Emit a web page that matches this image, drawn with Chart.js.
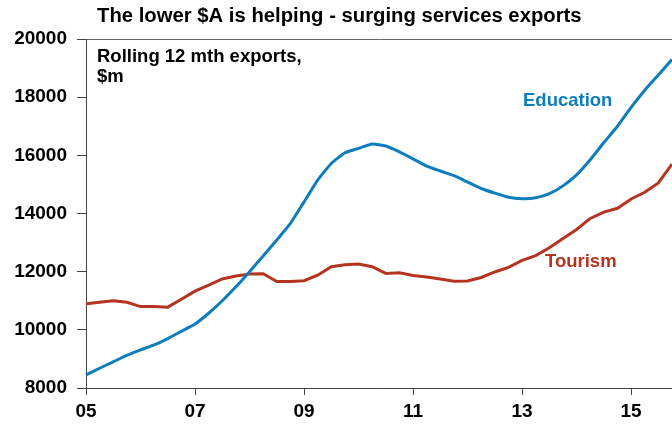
<!DOCTYPE html>
<html>
<head>
<meta charset="utf-8">
<script src="https://cdn.jsdelivr.net/npm/chart.js@4.4.1/dist/chart.umd.min.js"></script>
<style>
  html, body { margin: 0; padding: 0; background: #fff; }
  #wrap { width: 672px; height: 425px; position: relative; }
</style>
</head>
<body>
<div id="wrap"><canvas id="myChart" width="672" height="425"></canvas></div>
<script>
// quarterly observations, Mar-05 .. Dec-15
const quarters = [
  '2005Q1','2005Q2','2005Q3','2005Q4','2006Q1','2006Q2','2006Q3','2006Q4',
  '2007Q1','2007Q2','2007Q3','2007Q4','2008Q1','2008Q2','2008Q3','2008Q4',
  '2009Q1','2009Q2','2009Q3','2009Q4','2010Q1','2010Q2','2010Q3','2010Q4',
  '2011Q1','2011Q2','2011Q3','2011Q4','2012Q1','2012Q2','2012Q3','2012Q4',
  '2013Q1','2013Q2','2013Q3','2013Q4','2014Q1','2014Q2','2014Q3','2014Q4',
  '2015Q1','2015Q2','2015Q3','2015Q4'
];

// rolling 12 mth exports, $m
const education = [
  8450, 8680, 8900, 9120, 9310, 9480, 9700, 9950,
  10200, 10570, 11000, 11480, 12000, 12540, 13090, 13660,
  14400, 15150, 15720, 16090, 16240, 16390, 16320, 16120,
  15880, 15630, 15460, 15300, 15080, 14860, 14700, 14560,
  14510, 14540, 14680, 14950, 15330, 15850, 16440, 17000,
  17650, 18240, 18760, 19300
];
const tourism = [
  10900, 10950, 11000, 10950, 10800, 10800, 10780, 11050,
  11330, 11540, 11750, 11850, 11920, 11930, 11660, 11660,
  11690, 11880, 12170, 12240, 12260, 12170, 11940, 11960,
  11870, 11820, 11750, 11670, 11680, 11800, 11990, 12150,
  12390, 12550, 12820, 13140, 13450, 13830, 14050, 14180,
  14500, 14730, 15050, 15700
];

const yTicks = [8000, 10000, 12000, 14000, 16000, 18000, 20000];
const xTickYears = ['05', '07', '09', '11', '13', '15'];

const BLUE = '#0E7DBB';
const RED = '#B5341F';
const FONT = '"Liberation Sans", Arial, sans-serif';

function xLabel(i) {
  const q = quarters[i];
  const yy = q.slice(2, 4);
  if (q.endsWith('Q1') && xTickYears.includes(yy)) return yy;
  return '';
}

// titles and series labels drawn straight onto the canvas
const textPlugin = {
  id: 'texts',
  afterDraw(chart) {
    const c = chart.ctx;
    c.save();
    c.textBaseline = 'middle';
    c.textAlign = 'left';
    c.fillStyle = '#000';
    c.font = 'bold 20.3px ' + FONT;
    c.fillText('The lower $A is helping - surging services exports', 97, 16);
    c.font = 'bold 18.5px ' + FONT;
    c.fillText('Rolling 12 mth exports,', 97, 57);
    c.fillText('$m', 97, 77);
    c.fillStyle = BLUE;
    c.fillText('Education', 523, 101);
    c.fillStyle = RED;
    c.fillText('Tourism', 545, 262);
    c.restore();
  }
};

const data = {
  labels: quarters,
  datasets: [
    {
      label: 'Education',
      data: education,
      borderColor: BLUE,
      borderWidth: 3,
      pointRadius: 0,
      tension: 0.15
    },
    {
      label: 'Tourism',
      data: tourism,
      borderColor: RED,
      borderWidth: 3,
      pointRadius: 0,
      tension: 0
    }
  ]
};

const config = {
  type: 'line',
  data: data,
  plugins: [textPlugin],
  options: {
    responsive: false,
    animation: false,
    layout: { padding: { top: 39, right: 0, left: 0, bottom: 0 } },
    plugins: {
      legend: { display: false },
      tooltip: { enabled: false }
    },
    scales: {
      x: {
        type: 'category',
        offset: false,
        afterFit(scale) {
          scale.height = 37;
          scale.paddingLeft = 0;
          scale.paddingRight = 0;
        },
        border: { color: '#444', width: 1 },
        grid: {
          drawOnChartArea: false,
          tickLength: 7,
          tickColor: ctx => xLabel(ctx.index) ? '#444' : 'transparent'
        },
        ticks: {
          autoSkip: false,
          maxRotation: 0,
          padding: 5,
          color: '#000',
          font: { family: FONT, size: 19, weight: 'bold' },
          callback: (v, i) => xLabel(i)
        }
      },
      y: {
        min: 8000,
        max: 20000,
        afterFit(scale) { scale.width = 86; },
        afterBuildTicks(scale) { scale.ticks = yTicks.map(v => ({ value: v })); },
        border: { color: '#444', width: 1 },
        grid: {
          tickLength: 9,
          tickColor: '#444',
          color: ctx => ctx.tick && ctx.tick.value === 20000 ? '#666' : 'transparent'
        },
        ticks: {
          padding: 10,
          color: '#000',
          font: { family: FONT, size: 19, weight: 'bold' },
          callback: v => String(v)
        }
      }
    }
  }
};

const myChart = new Chart(document.getElementById('myChart'), config);
</script>
</body>
</html>
